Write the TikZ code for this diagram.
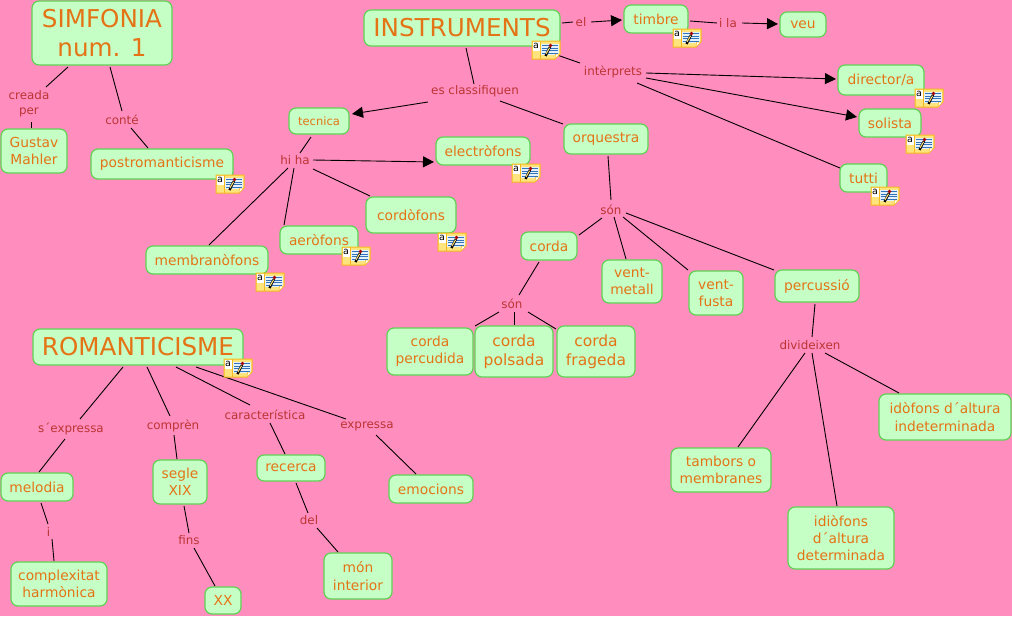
\documentclass[tikz,border=0pt]{standalone}
\usepackage{fontspec}
\setmainfont{DejaVu Sans}
\usetikzlibrary{arrows.meta}
\definecolor{bgpink}{RGB}{255,142,190}
\definecolor{boxfill}{RGB}{198,255,198}
\definecolor{boxline}{RGB}{95,210,85}
\definecolor{conceptcol}{RGB}{228,115,22}
\definecolor{linkcol}{RGB}{188,52,52}
\definecolor{noteyellow}{RGB}{255,228,125}
\definecolor{noteline}{RGB}{245,185,30}
\definecolor{notepaper}{RGB}{228,240,250}
\definecolor{notelines}{RGB}{50,115,185}
\tikzset{
 x=1pt,y=-1pt,
 concept/.style={draw=boxline,fill=boxfill,line width=1.2pt,rounded corners=7pt,text=conceptcol,align=center,inner sep=0pt,font=\fontsize{#1}{#1}\selectfont\setlength{\baselineskip}{1.25\baselineskip}},
 concept/.default=13.8,
 linkphrase/.style={text=linkcol,align=center,inner sep=1pt,font=\fontsize{11.9}{15}\selectfont},
 conn/.style={draw=black,line width=0.9pt},
 arrowconn/.style={conn,-{Triangle[length=11pt,width=11pt]}},
 noteicon/.style={draw=noteline,fill=noteyellow,line width=1pt},
}
\newcommand{\reg}[3]{\expandafter\gdef\csname cx#1\endcsname{#2}\expandafter\gdef\csname cy#1\endcsname{#3}}
\newcommand{\cbox}[7][13.8]{% size; name; x1,y1,x2,y2 ; text
 \node[concept=#1,minimum width=#5-#3,minimum height=#6-#4] (#2) at ({(#3+#5)/2},{(#4+#6)/2}) {#7};
 \reg{#2}{((#3+#5)/2)}{((#4+#6)/2)}}
\newcommand{\lnk}[4]{\node[linkphrase] (#1) at (#2,#3) {#4};\reg{#1}{(#2)}{(#3)}}
% connector from node a to node b, each end given by where it meets the node
\newcommand{\cn}[7][conn]{\draw[#1]
 ([shift={({#3-\csname cx#2\endcsname},{#4-\csname cy#2\endcsname})}]#2.center) --
 ([shift={({#6-\csname cx#5\endcsname},{#7-\csname cy#5\endcsname})}]#5.center);}
\newcommand{\note}[2]{%
 \begin{scope}[shift={(#1,#2)}]
 \path[noteicon] (0,0)--(28,0)--(28,13)--(23,18)--(0,18)--cycle;
 \fill[white] (1,1) rectangle (7.5,10);
 \fill[notepaper] (9,3) rectangle (26.5,14);
 \draw[noteline,line width=.5pt] (8,0)--(8,18);
 \path[draw=noteline,fill=white,line width=.5pt] (28,13)--(23.5,13)--(23,18)--cycle;
 \node[inner sep=0pt,font=\fontsize{9.5}{9.5}\selectfont,text=black] at (4,5) {a};
 \foreach \yy in {4.5,7,9.5,12}{\draw[notelines,line width=.8pt] (10,\yy)--(26,\yy);}
 \draw[black,line width=2.4pt] (13.5,15)--(18,6);
 \draw[noteyellow,line width=1pt] (14,13)--(17.6,6.8);
 \fill[red!65!black] (18.5,4.5) circle (1.9);
 \end{scope}}
\begin{document}
\begin{tikzpicture}
\useasboundingbox[fill=bgpink] (0,0) rectangle (1012,616);
% concepts
\cbox[24.6]{simf}{32}{1}{172}{65}{SIMFONIA\\[-1.5pt]num. 1}
\cbox[24.6]{inst}{364}{10}{560}{46}{INSTRUMENTS}
\cbox[24.6]{rom}{33}{329}{243}{365}{ROMANTICISME}
\cbox{timbre}{624}{5}{688}{33}{timbre}
\cbox{veu}{780}{12}{826}{37}{veu}
\cbox{dir}{838}{65}{924}{95}{director/a}
\cbox{sol}{859}{109}{921}{137}{solista}
\cbox{tut}{840}{164}{887}{192}{tutti}
\cbox[11.5]{tec}{289}{108}{349}{134}{tecnica}
\cbox{ele}{436}{137}{530}{165}{electròfons}
\cbox{orq}{564}{124}{648}{154}{orquestra}
\cbox{post}{91}{149}{233}{179}{postromanticisme}
\cbox{gus}{1}{129}{67}{173}{Gustav\\Mahler}
\cbox{cor}{366}{197}{456}{233}{cordòfons}
\cbox{aer}{280}{226}{358}{254}{aeròfons}
\cbox{mem}{146}{246}{268}{274}{membranòfons}
\cbox{corda}{521}{232}{577}{260}{corda}
\cbox{vm}{602}{260}{662}{303}{vent-\\metall}
\cbox{vf}{689}{271}{743}{315}{vent-\\fusta}
\cbox{perc}{775}{270}{859}{302}{percussió}
\cbox{cperc}{387}{328}{473}{375}{corda\\percudida}
\cbox[15.5]{cpol}{475}{326}{553}{377}{corda\\polsada}
\cbox[15.5]{cfra}{557}{326}{635}{377}{corda\\frageda}
\cbox{mel}{1}{473}{73}{501}{melodia}
\cbox{seg}{153}{460}{207}{504}{segle\\XIX}
\cbox{rec}{257}{455}{325}{481}{recerca}
\cbox{emo}{389}{475}{473}{503}{emocions}
\cbox{com}{11}{562}{107}{606}{complexitat\\harmònica}
\cbox{xx}{205}{587}{241}{614}{XX}
\cbox{mon}{324}{553}{392}{599}{món\\interior}
\cbox{tam}{671}{448}{771}{492}{tambors o\\membranes}
\cbox{idi}{788}{507}{894}{569}{idiòfons\\d´altura\\determinada}
\cbox{ido}{879}{394}{1011}{440}{idòfons d´altura\\indeterminada}
% linking phrases
\lnk{lel}{581}{22}{el}
\lnk{lila}{728}{23}{i la}
\lnk{lint}{613}{72}{intèrprets}
\lnk{lcla}{475}{91}{es classifiquen}
\lnk{lhi}{295}{160.5}{hi ha}
\lnk{lcre}{29}{103.5}{creada\\per}
\lnk{lcon}{122}{120}{conté}
\lnk{lson}{611}{209.5}{són}
\lnk{lson2}{512}{304}{són}
\lnk{ldiv}{810}{345}{divideixen}
\lnk{lexp}{71}{428.5}{s´expressa}
\lnk{lcom}{173}{426}{comprèn}
\lnk{lcar}{265}{415}{característica}
\lnk{lexs}{367}{426.5}{expressa}
\lnk{li}{48.5}{532}{i}
\lnk{lfin}{189}{540}{fins}
\lnk{ldel}{309}{520}{del}
% connectors
\cn{simf}{68}{67}{lcre}{46}{87}
\cn{lcre}{31}{122}{gus}{31}{128}
\cn{simf}{110}{67}{lcon}{122}{111}
\cn{lcon}{131}{128}{post}{148}{148}
\cn{inst}{562}{23}{lel}{573}{22}
\cn[arrowconn]{lel}{591}{22}{timbre}{622}{20}
\cn{timbre}{690}{21}{lila}{717}{23}
\cn[arrowconn]{lila}{742}{23}{veu}{778}{24}
\cn{inst}{540}{49}{lint}{580}{63}
\cn[arrowconn]{lint}{646}{73}{dir}{836}{79}
\cn[arrowconn]{lint}{646}{78}{sol}{857}{117}
\cn{lint}{637}{83}{tut}{840}{168}
\cn{inst}{466}{48}{lcla}{474}{84}
\cn[arrowconn]{lcla}{428}{102}{tec}{352}{114}
\cn{lcla}{500}{101}{orq}{563}{124}
\cn{tec}{311}{137}{lhi}{300}{153}
\cn[arrowconn]{lhi}{313}{160}{ele}{434}{162}
\cn{lhi}{313}{169}{cor}{370}{196}
\cn{lhi}{294}{168}{aer}{284}{225}
\cn{lhi}{288}{168}{mem}{209}{245}
\cn{orq}{608}{156}{lson}{611}{200}
\cn{lson}{602}{218}{corda}{579}{235}
\cn{lson}{614}{217}{vm}{626}{259}
\cn{lson}{623}{217}{vf}{688}{270}
\cn{lson}{626}{213}{perc}{774}{270}
\cn{corda}{539}{262}{lson2}{519}{295}
\cn{lson2}{499}{312}{cperc}{475}{326}
\cn{lson2}{514}{312}{cpol}{514}{325}
\cn{lson2}{528}{312}{cfra}{556}{329}
\cn{perc}{815}{304}{ldiv}{812}{337}
\cn{ldiv}{805}{353}{tam}{738}{447}
\cn{ldiv}{812}{353}{idi}{837}{506}
\cn{ldiv}{825}{353}{ido}{899}{393}
\cn{rom}{123}{367}{lexp}{80}{419}
\cn{lexp}{65}{439}{mel}{39}{472}
\cn{mel}{41}{503}{li}{48}{524}
\cn{li}{52}{539}{com}{54}{561}
\cn{rom}{147}{367}{lcom}{170}{416}
\cn{lcom}{174}{435}{seg}{177}{459}
\cn{seg}{184}{506}{lfin}{189}{533}
\cn{lfin}{194}{548}{xx}{215}{586}
\cn{rom}{176}{367}{lcar}{250}{405}
\cn{lcar}{270}{423}{rec}{285}{454}
\cn{rec}{296}{483}{ldel}{308}{513}
\cn{ldel}{317}{528}{mon}{338}{552}
\cn{rom}{196}{367}{lexs}{346}{419}
\cn{lexs}{376}{435}{emo}{416}{474}
% note icons
\note{532}{41}\note{673}{29}\note{915}{89}\note{906}{135}\note{871}{187}
\note{216}{175}\note{512}{164}\note{438}{233}\note{342}{247}\note{256}{273}\note{224}{359}
\end{tikzpicture}
\end{document}
